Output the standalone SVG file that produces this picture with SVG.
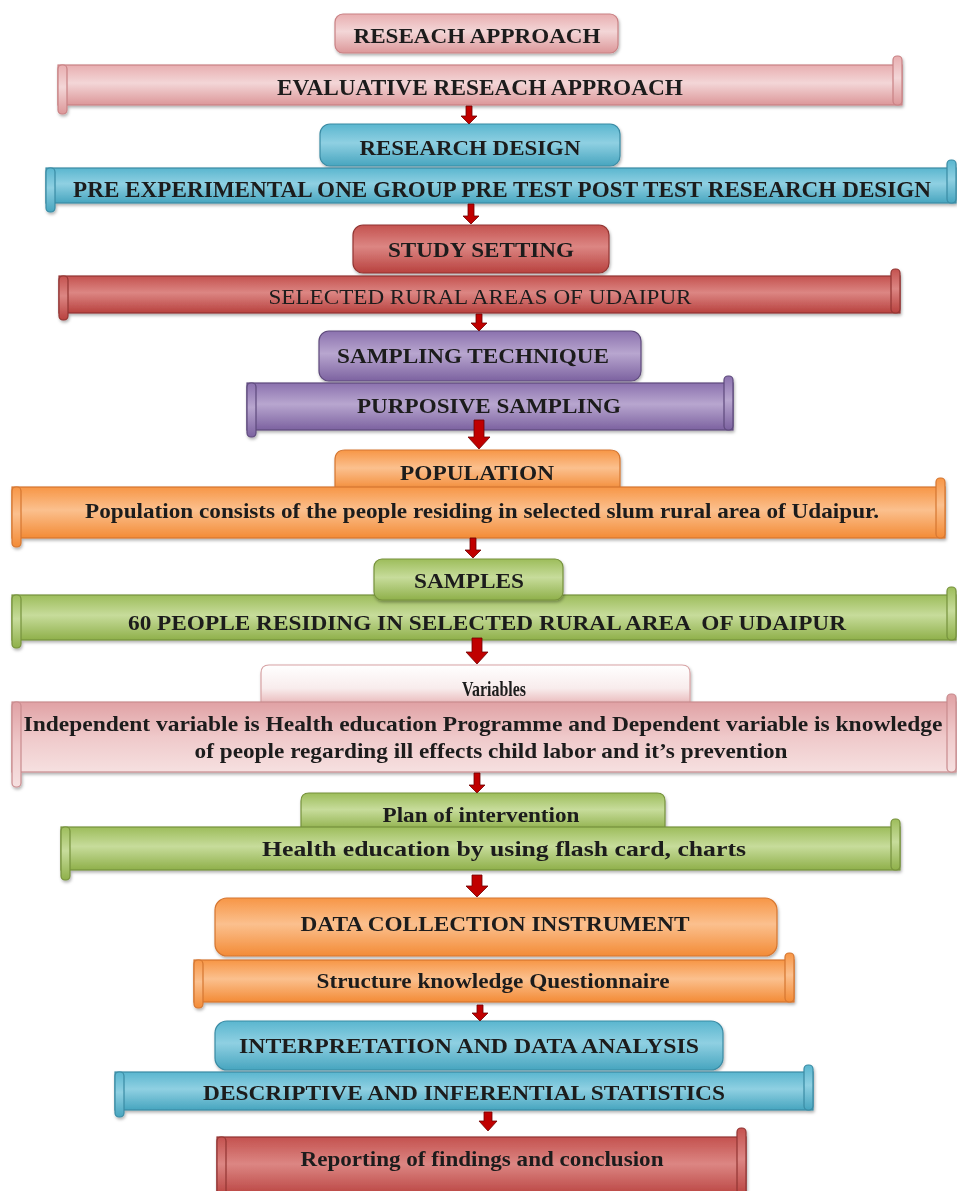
<svg xmlns="http://www.w3.org/2000/svg" width="957" height="1191" viewBox="0 0 957 1191">
<defs>
<linearGradient id="gPink" x1="0" y1="0" x2="0" y2="1"><stop offset="0" stop-color="#e8aeb0"/><stop offset="0.45" stop-color="#f3d6d7"/><stop offset="1" stop-color="#dc9799"/></linearGradient>
<linearGradient id="gBlue" x1="0" y1="0" x2="0" y2="1"><stop offset="0" stop-color="#5ab6cf"/><stop offset="0.45" stop-color="#8fd0e2"/><stop offset="1" stop-color="#47a5bf"/></linearGradient>
<linearGradient id="gRed" x1="0" y1="0" x2="0" y2="1"><stop offset="0" stop-color="#c4524f"/><stop offset="0.45" stop-color="#dc8683"/><stop offset="1" stop-color="#b8413e"/></linearGradient>
<linearGradient id="gPurple" x1="0" y1="0" x2="0" y2="1"><stop offset="0" stop-color="#8b71ae"/><stop offset="0.45" stop-color="#b8a6cf"/><stop offset="1" stop-color="#7c62a0"/></linearGradient>
<linearGradient id="gOrange" x1="0" y1="0" x2="0" y2="1"><stop offset="0" stop-color="#f79646"/><stop offset="0.45" stop-color="#fbc08e"/><stop offset="1" stop-color="#f38b36"/></linearGradient>
<linearGradient id="gGreen" x1="0" y1="0" x2="0" y2="1"><stop offset="0" stop-color="#9dbd5b"/><stop offset="0.45" stop-color="#c7dc9b"/><stop offset="1" stop-color="#8fb04a"/></linearGradient>
<linearGradient id="gVarTab" x1="0" y1="0" x2="0" y2="1"><stop offset="0" stop-color="#ffffff"/><stop offset="0.6" stop-color="#f8ecec"/><stop offset="1" stop-color="#e9b8ba"/></linearGradient>
<linearGradient id="gVarScroll" x1="0" y1="0" x2="0" y2="1"><stop offset="0" stop-color="#e0a1a4"/><stop offset="0.5" stop-color="#efc9ca"/><stop offset="1" stop-color="#f6e0e0"/></linearGradient>
<filter id="sh" x="-5%" y="-20%" width="110%" height="150%"><feDropShadow dx="1" dy="2" stdDeviation="1.5" flood-color="#000" flood-opacity="0.3"/></filter>
</defs>
<style>
.pink{fill:url(#gPink);stroke:#c98184;stroke-width:1.2}
.blue{fill:url(#gBlue);stroke:#3a8ba4;stroke-width:1.2}
.red{fill:url(#gRed);stroke:#923532;stroke-width:1.2}
.purple{fill:url(#gPurple);stroke:#5e4a7c;stroke-width:1.2}
.orange{fill:url(#gOrange);stroke:#d57630;stroke-width:1.2}
.green{fill:url(#gGreen);stroke:#76923c;stroke-width:1.2}
.vtab{fill:url(#gVarTab);stroke:#d7a2a4;stroke-width:1.2}
.vscroll{fill:url(#gVarScroll);stroke:#c98b8e;stroke-width:1.2}
.node{filter:url(#sh)}
text{font-family:"Liberation Serif","Times New Roman",serif;font-weight:bold;fill:#1c1c1c;text-anchor:middle}
.n{font-weight:normal}
.arrow{fill:#c00000;stroke:#6e0000;stroke-width:0.8}
</style>

<!-- nodes -->
<g id="n-research-approach" class="node">
<rect class="pink" x="335" y="14" width="283" height="39" rx="8"/>
<text x="477" y="43" font-size="22" textLength="247" lengthAdjust="spacingAndGlyphs">RESEACH APPROACH</text>
</g>
<g id="n-evaluative" class="node">
<rect class="pink" x="58" y="65" width="844" height="40"/>
<rect class="pink" x="58" y="65" width="9" height="49" rx="4"/>
<rect class="pink" x="893" y="56" width="9" height="49" rx="4"/>
<text x="480" y="95" font-size="23" textLength="406" lengthAdjust="spacingAndGlyphs">EVALUATIVE RESEACH APPROACH</text>
</g>
<g id="n-research-design" class="node">
<rect class="blue" x="320" y="124" width="300" height="42" rx="10"/>
<text x="470" y="155" font-size="22" textLength="221" lengthAdjust="spacingAndGlyphs">RESEARCH DESIGN</text>
</g>
<g id="n-pre-experimental" class="node">
<rect class="blue" x="46" y="168" width="910" height="35"/>
<rect class="blue" x="46" y="168" width="9" height="44" rx="4"/>
<rect class="blue" x="947" y="160" width="9" height="43" rx="4"/>
<text x="502" y="197" font-size="23" textLength="858" lengthAdjust="spacingAndGlyphs">PRE EXPERIMENTAL ONE GROUP PRE TEST POST TEST RESEARCH DESIGN</text>
</g>
<g id="n-study-setting" class="node">
<rect class="red" x="353" y="225" width="256" height="48" rx="10"/>
<text x="481" y="257" font-size="22" textLength="186" lengthAdjust="spacingAndGlyphs">STUDY SETTING</text>
</g>
<g id="n-selected-rural" class="node">
<rect class="red" x="59" y="276" width="841" height="37"/>
<rect class="red" x="59" y="276" width="9" height="44" rx="4"/>
<rect class="red" x="891" y="269" width="9" height="44" rx="4"/>
<text class="n" x="480" y="304" font-size="22" textLength="423" lengthAdjust="spacingAndGlyphs">SELECTED RURAL AREAS OF UDAIPUR</text>
</g>
<g id="n-sampling-technique" class="node">
<rect class="purple" x="319" y="331" width="322" height="50" rx="10"/>
<text x="473" y="363" font-size="22" textLength="272" lengthAdjust="spacingAndGlyphs">SAMPLING TECHNIQUE</text>
</g>
<g id="n-purposive" class="node">
<rect class="purple" x="247" y="383" width="486" height="47"/>
<rect class="purple" x="247" y="383" width="9" height="54" rx="4"/>
<rect class="purple" x="724" y="376" width="9" height="54" rx="4"/>
<text x="489" y="413" font-size="22" textLength="264" lengthAdjust="spacingAndGlyphs">PURPOSIVE SAMPLING</text>
</g>
<g id="n-population-tab" class="node">
<path class="orange" d="M335 490 V460 Q335 450 345 450 H610 Q620 450 620 460 V490 Z"/>
<text x="477" y="480" font-size="22" textLength="154" lengthAdjust="spacingAndGlyphs">POPULATION</text>
</g>
<g id="n-population" class="node">
<rect class="orange" x="12" y="487" width="933" height="51"/>
<rect class="orange" x="12" y="487" width="9" height="60" rx="4"/>
<rect class="orange" x="936" y="478" width="9" height="60" rx="4"/>
<text x="482" y="518" font-size="22" textLength="794" lengthAdjust="spacingAndGlyphs">Population consists of the people residing in selected slum rural area of Udaipur.</text>
</g>
<g id="n-sixty-people" class="node">
<rect class="green" x="12" y="595" width="944" height="45"/>
<rect class="green" x="12" y="595" width="9" height="53" rx="4"/>
<rect class="green" x="947" y="587" width="9" height="53" rx="4"/>
<text x="487" y="630" font-size="22" textLength="718" lengthAdjust="spacingAndGlyphs" xml:space="preserve">60 PEOPLE RESIDING IN SELECTED RURAL AREA  OF UDAIPUR</text>
</g>
<g id="n-samples" class="node">
<rect class="green" x="374" y="559" width="189" height="41" rx="8"/>
<text x="469" y="588" font-size="22" textLength="110" lengthAdjust="spacingAndGlyphs">SAMPLES</text>
</g>
<g id="n-variables-tab" class="node">
<path class="vtab" d="M261 704 V673 Q261 665 269 665 H682 Q690 665 690 673 V704 Z"/>
<text x="494" y="696" font-size="21" textLength="64" lengthAdjust="spacingAndGlyphs">Variables</text>
</g>
<g id="n-variables" class="node">
<rect class="vscroll" x="12" y="702" width="944" height="70"/>
<rect class="vscroll" x="12" y="702" width="9" height="85" rx="4"/>
<rect class="vscroll" x="947" y="694" width="9" height="78" rx="4"/>
<text x="483" y="731" font-size="22" textLength="919" lengthAdjust="spacingAndGlyphs">Independent variable is Health education Programme and Dependent variable is knowledge</text>
<text x="491" y="758" font-size="22" textLength="593" lengthAdjust="spacingAndGlyphs">of people regarding ill effects child labor and it’s prevention</text>
</g>
<g id="n-plan-tab" class="node">
<path class="green" d="M301 830 V801 Q301 793 309 793 H657 Q665 793 665 801 V830 Z"/>
<text x="481" y="822" font-size="20" textLength="197" lengthAdjust="spacingAndGlyphs">Plan of intervention</text>
</g>
<g id="n-health-education" class="node">
<rect class="green" x="61" y="827" width="839" height="43"/>
<rect class="green" x="61" y="827" width="9" height="53" rx="4"/>
<rect class="green" x="891" y="819" width="9" height="51" rx="4"/>
<text x="504" y="856" font-size="21" textLength="484" lengthAdjust="spacingAndGlyphs">Health education by using flash card, charts</text>
</g>
<g id="n-data-collection" class="node">
<rect class="orange" x="215" y="898" width="562" height="58" rx="12"/>
<text x="495" y="931" font-size="22" textLength="389" lengthAdjust="spacingAndGlyphs">DATA COLLECTION INSTRUMENT</text>
</g>
<g id="n-structure" class="node">
<rect class="orange" x="194" y="960" width="600" height="42"/>
<rect class="orange" x="194" y="960" width="9" height="48" rx="4"/>
<rect class="orange" x="785" y="953" width="9" height="49" rx="4"/>
<text x="493" y="988" font-size="21" textLength="353" lengthAdjust="spacingAndGlyphs">Structure knowledge Questionnaire</text>
</g>
<g id="n-interpretation" class="node">
<rect class="blue" x="215" y="1021" width="508" height="49" rx="12"/>
<text x="469" y="1053" font-size="22" textLength="460" lengthAdjust="spacingAndGlyphs">INTERPRETATION AND DATA ANALYSIS</text>
</g>
<g id="n-descriptive" class="node">
<rect class="blue" x="115" y="1072" width="698" height="38"/>
<rect class="blue" x="115" y="1072" width="9" height="45" rx="4"/>
<rect class="blue" x="804" y="1065" width="9" height="45" rx="4"/>
<text x="464" y="1100" font-size="22" textLength="522" lengthAdjust="spacingAndGlyphs">DESCRIPTIVE AND INFERENTIAL STATISTICS</text>
</g>
<g id="n-reporting" class="node">
<rect class="red" x="217" y="1137" width="529" height="60"/>
<rect class="red" x="217" y="1137" width="9" height="60" rx="4"/>
<rect class="red" x="737" y="1128" width="9" height="69" rx="4"/>
<text x="482" y="1166" font-size="21" textLength="363" lengthAdjust="spacingAndGlyphs">Reporting of findings and conclusion</text>
</g>

<!-- connectors -->
<g id="connectors">
<path class="arrow" d="M466 106 H472 V116 H477 L469 124 L461 116 H466 Z"/>
<path class="arrow" d="M468 204 H474 V216 H479 L471 224 L463 216 H468 Z"/>
<path class="arrow" d="M476 314 H482 V323 H487 L479 331 L471 323 H476 Z"/>
<path class="arrow" d="M474 420 H484 V437 H490 L479 449 L468 437 H474 Z"/>
<path class="arrow" d="M470 538 H476 V550 H481 L473 558 L465 550 H470 Z"/>
<path class="arrow" d="M472 638 H482 V652 H488 L477 664 L466 652 H472 Z"/>
<path class="arrow" d="M474 773 H480 V785 H485 L477 793 L469 785 H474 Z"/>
<path class="arrow" d="M472 875 H482 V886 H488 L477 897 L466 886 H472 Z"/>
<path class="arrow" d="M477 1005 H483 V1013 H488 L480 1021 L472 1013 H477 Z"/>
<path class="arrow" d="M484 1112 H492 V1121 H497 L488 1131 L479 1121 H484 Z"/>
</g>
</svg>
